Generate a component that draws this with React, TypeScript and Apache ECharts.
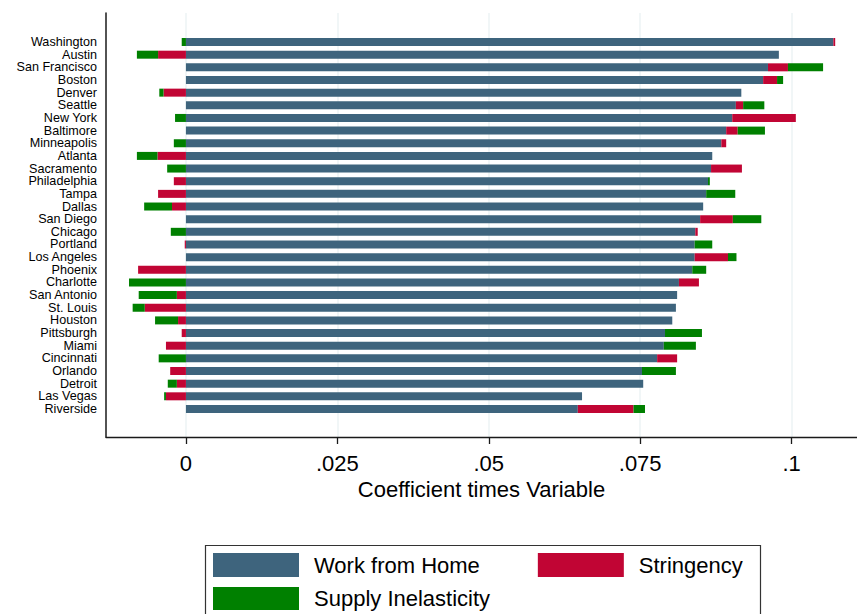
import React, { useEffect, useRef } from 'react';
import * as echarts from 'echarts';

const cities = [
  'Washington', 'Austin', 'San Francisco', 'Boston', 'Denver', 'Seattle', 'New York',
  'Baltimore', 'Minneapolis', 'Atlanta', 'Sacramento', 'Philadelphia', 'Tampa', 'Dallas',
  'San Diego', 'Chicago', 'Portland', 'Los Angeles', 'Phoenix', 'Charlotte', 'San Antonio',
  'St. Louis', 'Houston', 'Pittsburgh', 'Miami', 'Cincinnati', 'Orlando', 'Detroit',
  'Las Vegas', 'Riverside',
];

const workFromHome = [
  0.1069, 0.0979, 0.0961, 0.0953, 0.0917, 0.0908, 0.0902, 0.0892, 0.0884, 0.0869,
  0.0867, 0.0862, 0.0859, 0.0854, 0.0849, 0.0841, 0.0840, 0.0840, 0.0836, 0.0814,
  0.0811, 0.0809, 0.0803, 0.0791, 0.0789, 0.0778, 0.0753, 0.0755, 0.0654, 0.0647,
];

const stringency = [
  0.0003, -0.0046, 0.0033, 0.0023, -0.0037, 0.0012, 0.0105, 0.0019, 0.0008, -0.0047,
  0.0051, -0.0020, -0.0046, -0.0023, 0.0054, 0.0004, -0.0002, 0.0055, -0.0079, 0.0033,
  -0.0015, -0.0068, -0.0013, -0.0007, -0.0033, 0.0033, -0.0026, -0.0015, -0.0033, 0.0092,
];

const supplyInelasticity = [
  -0.0007, -0.0035, 0.0058, 0.0010, -0.0007, 0.0035, -0.0018, 0.0045, -0.0020, -0.0034,
  -0.0031, 0.0003, 0.0048, -0.0046, 0.0047, -0.0025, 0.0029, 0.0014, 0.0023, -0.0094,
  -0.0063, -0.0020, -0.0038, 0.0061, 0.0053, -0.0045, 0.0056, -0.0015, -0.0003, 0.0019,
];

const tickValues = [0, 0.025, 0.05, 0.075, 0.1];
const xMin = -0.0132;
const xMax = 0.1108;

const colors = {
  wfh: '#3e647d',
  stringency: '#c10534',
  supply: '#008000',
};

export default function App() {
  const ref = useRef<HTMLDivElement>(null);

  useEffect(() => {
    if (!ref.current) return;
    const chart = echarts.init(ref.current, null, { renderer: 'svg' });
    const font = "'Liberation Sans', Arial, Helvetica, sans-serif";
    const fmt = (v: number) => (v === 0 ? '0' : String(+v.toFixed(4)).replace(/^0\./, '.'));
    const axisColor = '#1a1a1a';

    const legendCommon = {
      left: 213,
      orient: 'horizontal',
      padding: 0,
      itemWidth: 86,
      itemHeight: 24,
      itemGap: 58,
      icon: 'rect',
      textStyle: { fontSize: 22, color: '#000', fontFamily: font, padding: [0, 0, 0, 10] },
    };

    chart.setOption({
      animation: false,
      backgroundColor: '#ffffff',
      textStyle: { fontFamily: font },
      grid: [
        { left: 106, top: 13, right: 0, height: 424 },
        { left: 106, top: 35.7, right: 0, height: 379.6 },
      ],
      xAxis: [
        {
          gridIndex: 0,
          type: 'value',
          min: xMin,
          max: xMax,
          axisLine: { show: true, onZero: false, lineStyle: { color: axisColor, width: 1.3 } },
          axisTick: {
            show: true,
            length: 7,
            customValues: tickValues,
            lineStyle: { color: axisColor, width: 1.3 },
          },
          axisLabel: {
            customValues: tickValues,
            formatter: fmt,
            fontSize: 22,
            color: '#000',
            margin: 15,
            fontFamily: font,
          },
          splitLine: { show: true, lineStyle: { color: '#edf3f4', width: 1.5 } },
          name: 'Coefficient times Variable',
          nameLocation: 'middle',
          nameGap: 35,
          nameTextStyle: { fontSize: 22, color: '#000', fontFamily: font },
        },
        { gridIndex: 1, type: 'value', min: xMin, max: xMax, show: false },
      ],
      yAxis: [
        {
          gridIndex: 0,
          type: 'value',
          min: 0,
          max: 1,
          axisLine: { show: true, onZero: false, lineStyle: { color: axisColor, width: 1.5 } },
          axisTick: { show: false },
          axisLabel: { show: false },
          splitLine: { show: false },
        },
        {
          gridIndex: 1,
          type: 'category',
          data: cities,
          inverse: true,
          axisLine: { show: false },
          axisTick: { show: false },
          axisLabel: { interval: 0, fontSize: 12.6, color: '#000', margin: 9, fontFamily: font },
          splitLine: { show: false },
        },
      ],
      legend: [
        { ...legendCommon, top: 553, data: ['Work from Home', 'Stringency'] },
        { ...legendCommon, top: 587, itemHeight: 23, data: ['Supply Inelasticity'] },
      ],
      graphic: [
        {
          type: 'rect',
          silent: true,
          z: 0,
          shape: { x: 205.5, y: 545.5, width: 555, height: 90 },
          style: { fill: '#ffffff', stroke: '#333333', lineWidth: 1.2 },
        },
      ],
      series: [
        {
          name: 'Work from Home',
          type: 'bar',
          xAxisIndex: 1,
          yAxisIndex: 1,
          stack: 'total',
          barWidth: 8,
          itemStyle: { color: colors.wfh },
          data: workFromHome,
        },
        {
          name: 'Stringency',
          type: 'bar',
          xAxisIndex: 1,
          yAxisIndex: 1,
          stack: 'total',
          barWidth: 8,
          itemStyle: { color: colors.stringency },
          data: stringency,
        },
        {
          name: 'Supply Inelasticity',
          type: 'bar',
          xAxisIndex: 1,
          yAxisIndex: 1,
          stack: 'total',
          barWidth: 8,
          itemStyle: { color: colors.supply },
          data: supplyInelasticity,
        },
      ],
    });

    return () => {
      chart.dispose();
    };
  }, []);

  return (
    <div
      ref={ref}
      style={{ position: 'absolute', left: 0, top: 0, width: 857, height: 614, background: '#fff' }}
    />
  );
}
